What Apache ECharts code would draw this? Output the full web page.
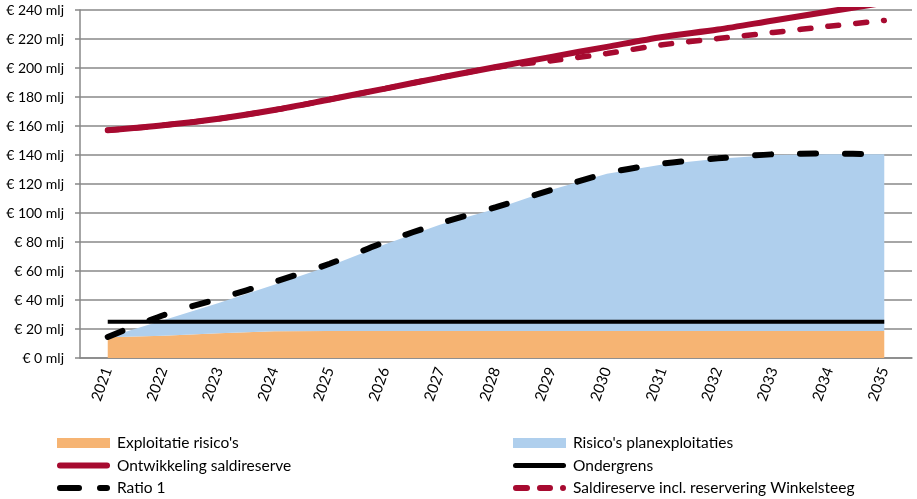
<!DOCTYPE html>
<html>
<head>
    <meta charset="utf-8">
    <title>Saldireserve en risico's</title>
    <script src="https://cdn.jsdelivr.net/npm/echarts@6/dist/echarts.min.js"></script>
    <style>
        html, body { margin: 0; padding: 0; background: #fff; }
    </style>
</head>
<body>
<div id="main" style="width: 917px;height:499px;"></div>
<script type="text/javascript">
    // jaren op de x-as
    var years = ['2021', '2022', '2023', '2024', '2025', '2026', '2027', '2028',
                 '2029', '2030', '2031', '2032', '2033', '2034', '2035'];
    // bedragen in miljoenen
    var exploitatieRisicos = [14.3, 15.4, 17, 18.4, 18.6, 18.6, 18.6, 18.6, 18.6, 18.6, 18.6, 18.6, 18.6, 18.6, 18.6];
    var planexploitaties = [0, 10.6, 21, 32.1, 44.9, 59.9, 73.4, 84.4, 97.4, 108.4, 114.9, 118.9, 121.4, 121.9, 121.9];
    var saldireserve = [157, 160.5, 165, 171, 178.3, 185.8, 193.4, 200.7, 207.7, 214.6, 221.4, 226.5, 232.8, 239, 245];
    var ondergrens = [25, 25, 25, 25, 25, 25, 25, 25, 25, 25, 25, 25, 25, 25, 25];
    var ratio1 = [14.5, 29.5, 41, 52.5, 65, 80, 93, 104, 116, 127.4, 134, 137.7, 140.5, 141, 140.5];
    var saldireserveWinkelsteeg = [157, 160.5, 165, 171, 178.3, 185.8, 193.4, 200.5, 205, 210, 216, 220.3, 224.5, 228.8, 232.8];

    var font = 'Lato';
    var red = '#A70A30';

    // legenda-iconen als paden (lijnstukken met ronde kopjes)
    var iconSolid = 'path://M3,0H50A3,3 0 0 1 50,6H3A3,3 0 0 1 3,0Z';
    var iconThin = 'path://M2.5,0H50.5A2.5,2.5 0 0 1 50.5,5H2.5A2.5,2.5 0 0 1 2.5,0Z';
    var iconRatio = 'path://M3,0H22A3,3 0 0 1 22,6H3A3,3 0 0 1 3,0ZM43,0H50A3,3 0 0 1 50,6H43A3,3 0 0 1 43,0Z';
    var iconDots = 'path://M3,0H14A3,3 0 0 1 14,6H3A3,3 0 0 1 3,0ZM27,0H37A3,3 0 0 1 37,6H27A3,3 0 0 1 27,0ZM50,0A3,3 0 0 1 50,6A3,3 0 0 1 50,0Z';

    var myChart = echarts.init(document.getElementById('main'));

    var legendBase = {
        orient: 'vertical',
        top: 435,
        padding: 0,
        itemWidth: 53,
        itemHeight: 10,
        itemGap: 6.5,
        textStyle: { fontFamily: font, fontSize: 15.5, lineHeight: 16, color: '#000', padding: [0, 0, 0, 2] }
    };

    var option = {
        animation: false,
        textStyle: { fontFamily: font },
        grid: { left: 80, right: 5, top: 10, bottom: 141 },
        legend: [
            Object.assign({}, legendBase, {
                left: 57,
                data: [
                    { name: "Exploitatie risico's", icon: 'rect' },
                    { name: 'Ontwikkeling saldireserve', icon: iconSolid },
                    { name: 'Ratio 1', icon: iconRatio }
                ]
            }),
            Object.assign({}, legendBase, {
                left: 513,
                data: [
                    { name: "Risico's planexploitaties", icon: 'rect' },
                    { name: 'Ondergrens', icon: iconThin },
                    { name: 'Saldireserve incl. reservering Winkelsteeg', icon: iconDots }
                ]
            })
        ],
        xAxis: {
            type: 'category',
            data: years,
            boundaryGap: true,
            axisLine: { lineStyle: { color: '#888', width: 1.5 } },
            axisTick: { length: 5, lineStyle: { color: '#888', width: 1.5 } },
            axisLabel: { rotate: 70, color: '#000', fontSize: 15, fontFamily: font, margin: 10 }
        },
        yAxis: {
            type: 'value',
            min: 0,
            max: 240,
            interval: 20,
            axisLine: { show: true, lineStyle: { color: '#888', width: 1.5 } },
            axisTick: { show: true, length: 5, lineStyle: { color: '#888', width: 1.5 } },
            splitLine: { lineStyle: { color: '#888', width: 1.5 } },
            axisLabel: { color: '#000', fontSize: 14, fontFamily: font, margin: 16,
                formatter: '€ {value} mlj' }
        },
        series: [
            {
                name: "Exploitatie risico's",
                type: 'line',
                stack: 'risico',
                data: exploitatieRisicos,
                symbol: 'none',
                itemStyle: { color: '#F6B473' },
                lineStyle: { width: 0 },
                areaStyle: { color: '#F6B473', opacity: 1 }
            },
            {
                name: "Risico's planexploitaties",
                type: 'line',
                stack: 'risico',
                data: planexploitaties,
                symbol: 'none',
                itemStyle: { color: '#AFCFED' },
                lineStyle: { width: 0 },
                areaStyle: { color: '#AFCFED', opacity: 1 }
            },
            {
                name: 'Saldireserve incl. reservering Winkelsteeg',
                type: 'line',
                data: saldireserveWinkelsteeg,
                symbol: 'none',
                smooth: 0.3,
                itemStyle: { color: red },
                lineStyle: { color: red, width: 5.5, type: [11, 17], cap: 'round' }
            },
            {
                name: 'Ontwikkeling saldireserve',
                type: 'line',
                data: saldireserve,
                symbol: 'none',
                smooth: 0.3,
                itemStyle: { color: red },
                lineStyle: { color: red, width: 6, cap: 'round' }
            },
            {
                name: 'Ondergrens',
                type: 'line',
                data: ondergrens,
                symbol: 'none',
                itemStyle: { color: '#000' },
                lineStyle: { color: '#000', width: 4 }
            },
            {
                name: 'Ratio 1',
                type: 'line',
                data: ratio1,
                symbol: 'none',
                smooth: 0.3,
                itemStyle: { color: '#000' },
                lineStyle: { color: '#000', width: 6, type: [16, 29], cap: 'round' }
            }
        ]
    };

    myChart.setOption(option);
</script>
</body>
</html>
